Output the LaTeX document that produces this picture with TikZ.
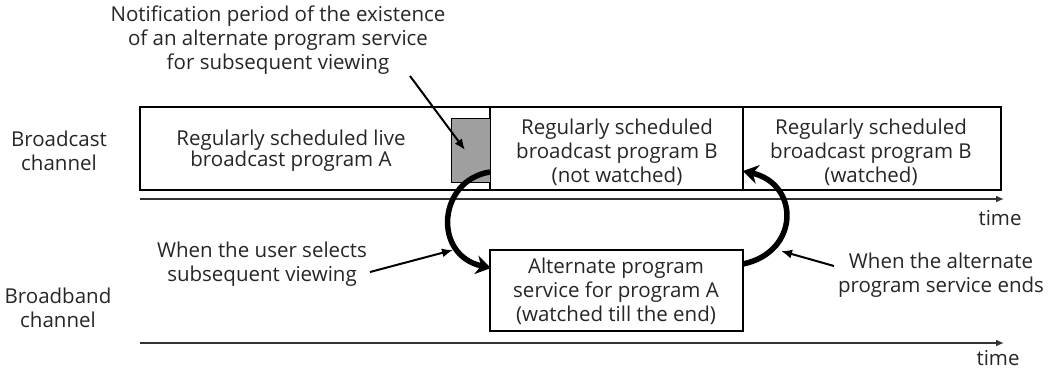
\documentclass[tikz,border=0pt]{standalone}
\usepackage{fontspec}
\setmainfont{Open Sans}
\usetikzlibrary{arrows.meta}
\begin{document}
\begin{tikzpicture}[x=1pt,y=-1pt,
  txt/.style={align=center,font=\fontsize{20.5}{24}\selectfont,inner sep=0pt,text=black!85},
  tight/.style={font=\fontsize{20.5}{21}\selectfont},
  box/.style={draw,line width=2.4pt},
  axis/.style={line width=1.6pt,draw=black!80,-{Latex[length=8pt,width=7pt]}},
  note/.style={line width=2pt,-{Latex[length=11pt,width=9pt]}},
  thickarc/.style={line width=5.5pt,-{Stealth[length=15pt,width=19pt]}}]
\useasboundingbox (0,0) rectangle (1052,370);
% broadcast row
\draw[box] (140,107) rectangle (1001,190);
\draw[box] (490,107) -- (490,190);
\draw[box] (743,107) -- (743,190);
\node[draw,fill=gray!75,line width=1.2pt,minimum width=39pt,minimum height=64pt,inner sep=0pt,anchor=north west] (gray) at (451,118) {};
\coordinate (ax1s) at (140,199);
\coordinate (ax1e) at (1004,199);
\draw[axis] (ax1s) -- (ax1e);
\node[txt] (t1) at (1000,218) {time};
% broadband
\draw[box] (490,250) rectangle (743,331);
\coordinate (ax2s) at (140,343);
\coordinate (ax2e) at (1004,343);
\draw[axis] (ax2s) -- (ax2e);
\node[txt] (t2) at (998,358) {time};
% labels
\node[txt] (bc) at (59,151) {Broadcast\\channel};
\node[txt] (bb) at (58,308) {Broadband\\channel};
\node[txt,tight] (pa) at (291,151) {Regularly scheduled live\\broadcast program A};
\node[txt] (pb1) at (617,152) {Regularly scheduled\\broadcast program B\\(not watched)};
\node[txt] (pb2) at (871,152) {Regularly scheduled\\broadcast program B\\(watched)};
\node[txt] (alt) at (616,291) {Alternate program\\service for program A\\(watched till the end)};
\node[txt] (notif) at (278,40) {Notification period of the existence\\of an alternate program service\\for subsequent viewing};
\node[txt] (sel) at (262,264) {When the user selects\\subsequent viewing};
\node[txt] (ends) at (941,275) {When the alternate\\program service ends};
% curved arrows
\coordinate (l1) at (490,172);
\coordinate (l2) at (491,268);
\coordinate (r1) at (743,264);
\coordinate (r2) at (743,171);
\draw[thickarc] (l1) .. controls (438,180) and (432,255) .. (l2);
\draw[thickarc] (r1) .. controls (800,252) and (800,184) .. (r2);
% pointer arrows
\coordinate (n1) at (410,76);
\coordinate (n2) at (465,150);
\draw[note] (n1) -- (n2);
\coordinate (s1) at (370,272);
\coordinate (s2) at (453,250);
\draw[note] (s1) -- (s2);
\coordinate (e1) at (834,266);
\coordinate (e2) at (781,251);
\draw[note] (e1) -- (e2);
\end{tikzpicture}
\end{document}
